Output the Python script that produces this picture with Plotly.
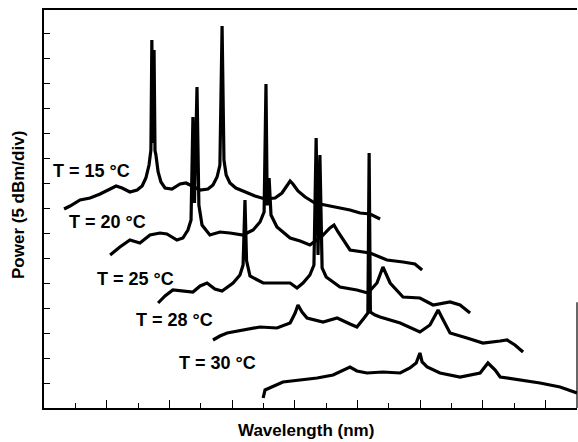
import plotly.graph_objects as go

# Wavelength in divisions, power in divisions (5 dBm/div)
x_15 = [0.64, 0.83, 1.15, 1.47, 1.79, 2.04, 2.30, 2.49, 2.74, 2.97, 3.13, 3.25, 3.35, 3.41, 3.44, 3.47, 3.51, 3.54, 3.57, 3.64, 3.73, 3.86, 4.08, 4.34, 4.53, 4.72, 4.98, 5.23, 5.39, 5.52, 5.61, 5.68, 5.74, 5.81, 5.93, 6.12, 6.41, 6.73, 7.05, 7.37, 7.59, 7.75, 7.85, 7.94, 8.10, 8.33, 8.64, 8.96, 9.44, 9.76, 10.08, 10.40, 10.72]
y_15 = [7.96, 8.08, 8.32, 8.40, 8.56, 8.72, 8.88, 8.80, 8.64, 8.72, 8.88, 9.20, 9.72, 10.32, 14.72, 10.6, 14.32, 10.3, 10.12, 9.44, 9.04, 8.80, 8.76, 8.96, 9.00, 8.88, 8.72, 8.76, 8.92, 9.24, 9.72, 15.28, 9.92, 9.32, 9.00, 8.80, 8.64, 8.48, 8.36, 8.40, 8.60, 8.92, 9.08, 8.96, 8.68, 8.44, 8.20, 8.12, 8.00, 7.92, 7.80, 7.76, 7.56]

x_20 = [2.11, 2.42, 2.74, 3.06, 3.38, 3.70, 3.92, 4.24, 4.43, 4.59, 4.69, 4.75, 4.80, 4.88, 4.94, 5.04, 5.29, 5.61, 5.93, 6.35, 6.67, 6.89, 7.02, 7.08, 7.12, 7.18, 7.24, 7.43, 7.85, 8.17, 8.48, 8.87, 9.12, 9.25, 9.38, 9.76, 10.40, 10.94, 11.45, 11.83, 12.06]
y_20 = [6.12, 6.44, 6.72, 6.60, 6.92, 7.00, 6.96, 6.72, 6.80, 7.12, 7.52, 11.64, 8.20, 12.84, 8.12, 7.32, 6.92, 7.04, 7.00, 6.92, 7.12, 7.44, 7.84, 12.96, 8.10, 9.20, 7.72, 7.24, 6.80, 6.68, 6.52, 6.88, 7.20, 7.32, 7.04, 6.32, 6.20, 5.92, 5.84, 5.76, 5.52]

x_25 = [3.64, 3.86, 4.11, 4.43, 4.75, 4.98, 5.20, 5.45, 5.68, 6.03, 6.25, 6.35, 6.41, 6.46, 6.57, 6.99, 7.53, 7.85, 8.07, 8.26, 8.48, 8.61, 8.68, 8.74, 8.80, 8.87, 9.00, 9.44, 9.98, 10.33, 10.62, 10.81, 11.04, 11.45, 11.99, 12.41, 12.95, 13.27, 13.59]
y_25 = [4.20, 4.48, 4.72, 4.68, 4.64, 4.88, 5.00, 4.76, 4.68, 5.00, 5.32, 5.72, 8.32, 5.90, 5.28, 5.00, 5.00, 5.00, 4.80, 5.00, 5.32, 5.72, 10.80, 6.12, 10.12, 5.60, 5.24, 4.84, 4.72, 4.60, 5.00, 5.64, 5.00, 4.44, 4.40, 4.12, 4.24, 4.12, 3.80]

x_28 = [5.39, 5.61, 5.84, 6.35, 6.89, 7.43, 7.85, 8.01, 8.10, 8.23, 8.39, 8.90, 9.35, 9.76, 9.98, 10.21, 10.33, 10.37, 10.41, 10.56, 10.72, 11.36, 11.99, 12.31, 12.44, 12.57, 12.70, 12.95, 13.49, 14.00, 14.55, 14.77, 15.02, 15.28]
y_28 = [2.72, 2.88, 3.00, 3.12, 3.24, 3.20, 3.40, 3.80, 4.12, 3.84, 3.60, 3.44, 3.60, 3.36, 3.24, 3.60, 3.80, 10.20, 3.84, 3.72, 3.64, 3.40, 3.04, 3.32, 3.64, 3.92, 3.60, 3.00, 2.80, 2.60, 2.68, 2.72, 2.52, 2.24]

x_30 = [6.99, 7.05, 7.62, 8.17, 8.71, 9.22, 9.54, 9.76, 9.98, 10.30, 10.81, 11.36, 11.67, 11.87, 11.99, 12.06, 12.22, 12.63, 13.27, 13.91, 14.16, 14.39, 14.55, 15.18, 15.82, 16.46, 17.00]
y_30 = [0.40, 0.72, 1.04, 1.12, 1.20, 1.32, 1.52, 1.64, 1.48, 1.40, 1.44, 1.40, 1.60, 1.80, 2.20, 1.84, 1.64, 1.40, 1.24, 1.40, 1.80, 1.52, 1.24, 1.12, 1.00, 0.84, 0.60]

labels = ["T = 15 °C", "T = 20 °C", "T = 25 °C", "T = 28 °C", "T = 30 °C"]
label_x = [1.50, 2.04, 2.93, 4.15, 5.52]
label_y = [9.48, 7.44, 5.16, 3.52, 1.80]

series = [(x_15, y_15), (x_20, y_20), (x_25, y_25), (x_28, y_28), (x_30, y_30)]

fig = go.Figure()
for (xs, ys), name in zip(series, labels):
    fig.add_trace(go.Scatter(x=xs, y=ys, mode="lines", name=name,
                             line=dict(color="black", width=3.2), showlegend=False))

font = "Liberation Sans, Arial, sans-serif"
for t, lx, ly in zip(labels, label_x, label_y):
    fig.add_annotation(x=lx, y=ly, text=t, showarrow=False,
                       font=dict(family=font, size=18, color="black", weight="bold"),
                       xanchor="center", yanchor="middle")

fig.add_annotation(xref="paper", yref="paper", x=0, y=0.5, xshift=-26, yshift=4,
                   text="Power (5 dBm/div)", textangle=-90, showarrow=False,
                   font=dict(family=font, size=17, color="black", weight="bold"),
                   xanchor="center", yanchor="middle")
fig.add_annotation(xref="paper", yref="paper", x=0.5, y=0, xshift=-5, yshift=-22,
                   text="Wavelength (nm)", showarrow=False,
                   font=dict(family=font, size=17, color="black", weight="bold"),
                   xanchor="center", yanchor="middle")

fig.add_shape(type="line", xref="paper", yref="paper", x0=1, x1=1, y0=0, y1=0.266,
              line=dict(color="black", width=1.2))

fig.update_xaxes(range=[0, 17], showgrid=False, zeroline=False, showline=True,
                 linecolor="black", linewidth=1.5, mirror=True,
                 ticks="inside", tickcolor="black", ticklen=8, tickwidth=1.2,
                 tick0=0, dtick=2, showticklabels=False,
                 minor=dict(ticks="inside", ticklen=5, tickwidth=1.2, tickcolor="black", dtick=1, tick0=0, showgrid=False))
fig.update_yaxes(range=[0, 15.92], showgrid=False, zeroline=False, showline=True,
                 linecolor="black", linewidth=1.5, mirror=False,
                 ticks="inside", tickcolor="black", ticklen=6, tickwidth=1.2,
                 tick0=0, dtick=1, showticklabels=False)

fig.update_layout(width=578, height=442, margin=dict(l=44, r=1, t=10, b=34),
                  plot_bgcolor="white", paper_bgcolor="white")

fig.write_html("out.html", config={"displayModeBar": False},
               post_script="document.body.style.margin='0';document.body.style.padding='0';")
